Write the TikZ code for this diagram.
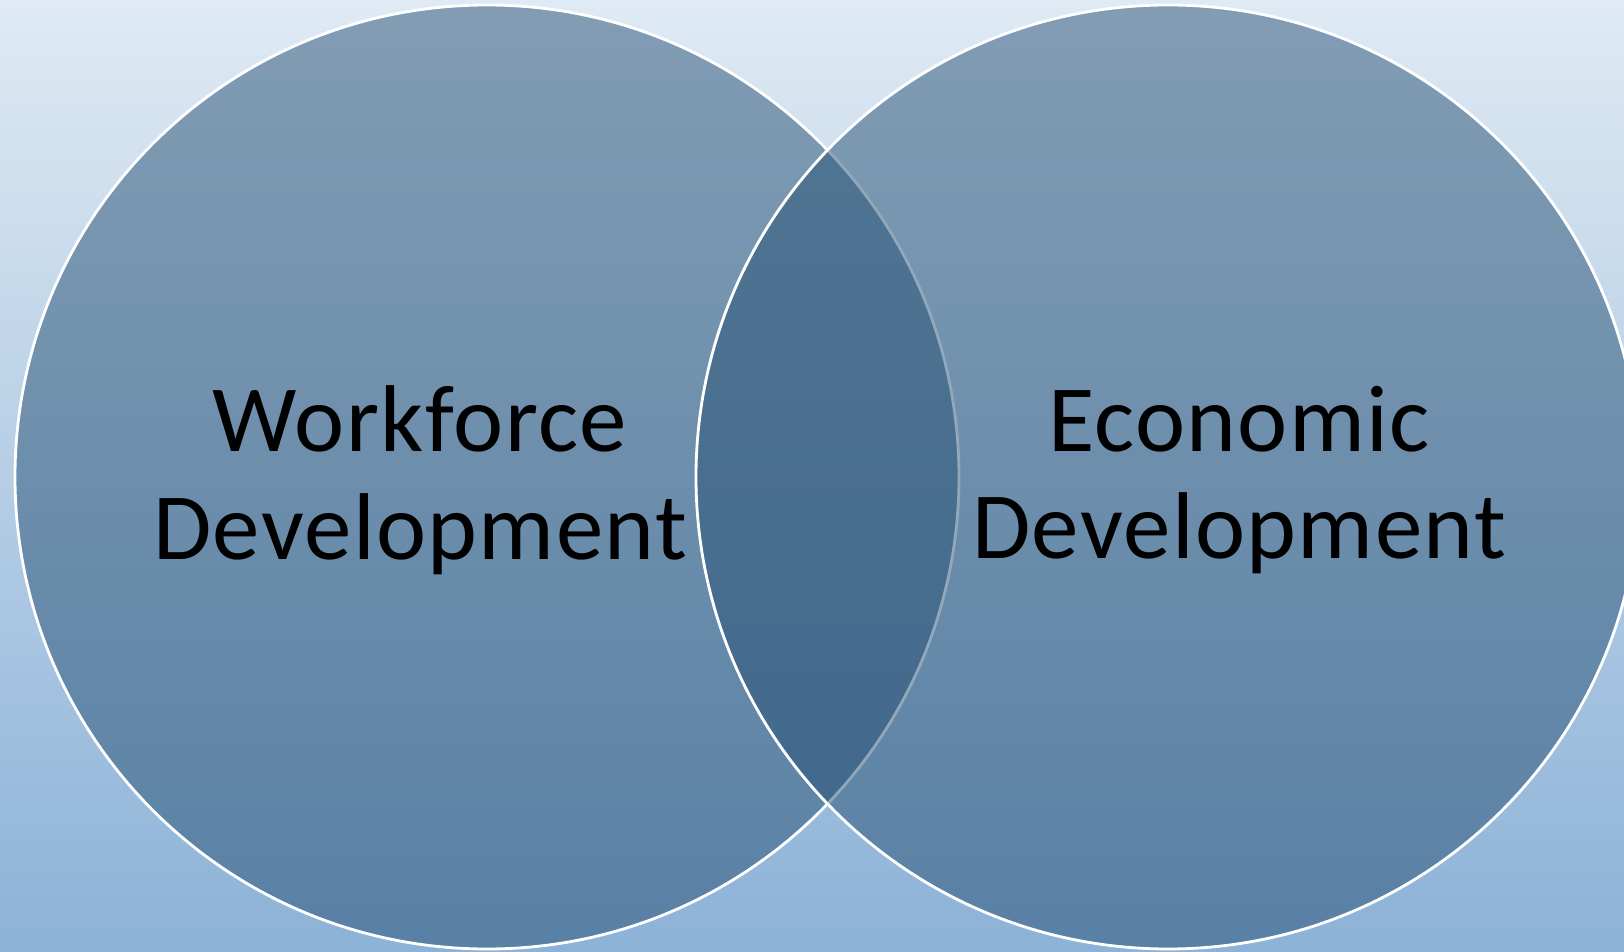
\documentclass[tikz,border=0pt]{standalone}
\usepackage{fontspec}
\setmainfont[LetterSpace=1.5]{Carlito}
\usetikzlibrary{shapes.geometric}
\definecolor{skytop}{RGB}{223,234,244}
\definecolor{skybottom}{RGB}{140,178,215}
\definecolor{ringblue}{RGB}{38,80,116}
\tikzstyle{ring} = [circle, minimum size=9.44cm, inner sep=0pt, draw=white, line width=0.8pt, fill=ringblue, fill opacity=0.5]
\tikzstyle{caption} = [align=center, text=black, font=\fontsize{27}{30.7}\selectfont]

\begin{document}
\begin{tikzpicture}
\useasboundingbox (0,0) rectangle (16.24,9.52);
\clip (0,0) rectangle (16.24,9.52);
\fill [top color=skytop, bottom color=skybottom] (0,0) rectangle (16.24,9.52);

\node (work) [ring] at (4.87,4.75) {};
\node (econ) [ring] at (11.68,4.75) {};

\node (worktxt) [caption] at (4.20,4.72) {Workforce\\Development};
\node (econtxt) [caption] at (12.39,4.72) {Economic\\Development};
\end{tikzpicture}
\end{document}
